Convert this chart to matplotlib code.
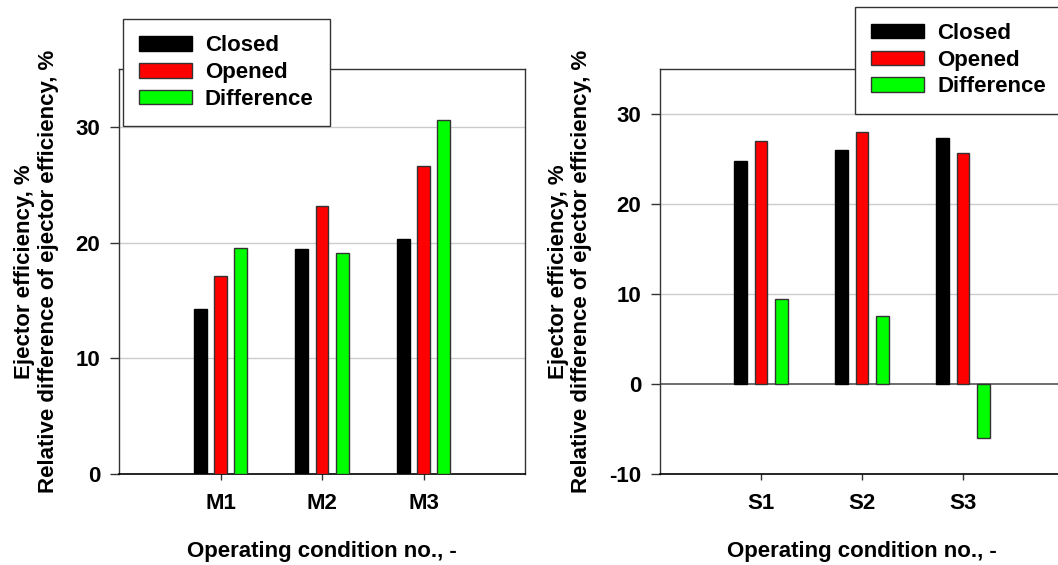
import matplotlib
matplotlib.use("Agg")
import matplotlib.pyplot as plt
import numpy as np

plt.rcParams['font.family'] = ['Liberation Sans', 'DejaVu Sans']
plt.rcParams['font.weight'] = 'bold'
plt.rcParams['axes.unicode_minus'] = False

# Data
cats_M = ["M1", "M2", "M3"]
closed_M = [14.3, 19.45, 20.3]
opened_M = [17.1, 23.2, 26.6]
diff_M = [19.5, 19.1, 30.6]

cats_S = ["S1", "S2", "S3"]
closed_S = [24.8, 26.05, 27.35]
opened_S = [27.05, 28.0, 25.7]
diff_S = [9.44, 7.52, -6.0]

series_labels = ["Closed", "Opened", "Difference"]
colors = ["#000000", "#ff0000", "#00ff00"]
edges = ["#000000", "#333333", "#333333"]

W, H = 1058, 565
fig = plt.figure(figsize=(W / 100, H / 100), dpi=100)

FS = 16
ylab = "Ejector efficiency, %\nRelative difference of ejector efficiency, %"
xlab = "Operating condition no., -"


def make_panel(rect, cats, data, ylim, yticks, legend_xy, zero_line):
    ax = fig.add_axes(rect)
    x = np.arange(1, len(cats) + 1)
    offs = [-0.2, 0.0, 0.2]
    handles = []
    for vals, c, e, off, lab in zip(data, colors, edges, offs, series_labels):
        b = ax.bar(x + off, vals, width=0.125, color=c, edgecolor=e,
                   linewidth=1.0, label=lab, zorder=3)
        handles.append(b)
    ax.set_xlim(0, 4)
    ax.set_ylim(*ylim)
    ax.set_xticks(x)
    ax.set_xticklabels(cats)
    ax.set_yticks(yticks)
    for t in yticks:
        if t == ylim[0]:
            continue
        if zero_line and t == 0:
            ax.axhline(0, color="#555555", lw=1.2, zorder=2)
        else:
            ax.axhline(t, color="#cccccc", lw=1.0, zorder=1)
    for s in ["left", "top", "right"]:
        ax.spines[s].set_color("#333333")
        ax.spines[s].set_linewidth(1.0)
    ax.spines["bottom"].set_color("#000000")
    ax.spines["bottom"].set_linewidth(1.2)
    ax.tick_params(axis="y", direction="out", length=6.5, width=1,
                   pad=7, labelsize=FS, color="#333333")
    ax.tick_params(axis="x", direction="out", length=4.5, width=1,
                   pad=9.5, labelsize=FS, color="#333333")
    for lbl in ax.get_xticklabels() + ax.get_yticklabels():
        lbl.set_fontweight("bold")
    ax.set_ylabel(ylab, fontsize=FS, fontweight="bold", labelpad=12,
                  linespacing=1.15)
    ax.set_xlabel(xlab, fontsize=FS, fontweight="bold", labelpad=19)
    leg = ax.legend(handles=handles, loc="upper left",
                    bbox_to_anchor=legend_xy, bbox_transform=fig.transFigure,
                    fontsize=FS, frameon=True, fancybox=False,
                    framealpha=1.0, edgecolor="#333333",
                    handlelength=2.35, handleheight=0.63,
                    handletextpad=0.6, labelspacing=0.26,
                    borderpad=0.74, borderaxespad=0)
    leg.get_frame().set_linewidth(1.0)
    for t in leg.get_texts():
        t.set_fontweight("bold")
    leg.set_zorder(10)
    return ax


ax1 = make_panel([119 / W, 1 - 474 / H, 406 / W, 405 / H],
                 cats_M, [closed_M, opened_M, diff_M],
                 (0, 35), [0, 10, 20, 30],
                 (123 / W, 1 - 19 / H), False)
ax2 = make_panel([660 / W, 1 - 474 / H, 404 / W, 405 / H],
                 cats_S, [closed_S, opened_S, diff_S],
                 (-10, 35), [-10, 0, 10, 20, 30],
                 (855 / W, 1 - 6.5 / H), True)

fig.savefig("out.png", dpi=100)
